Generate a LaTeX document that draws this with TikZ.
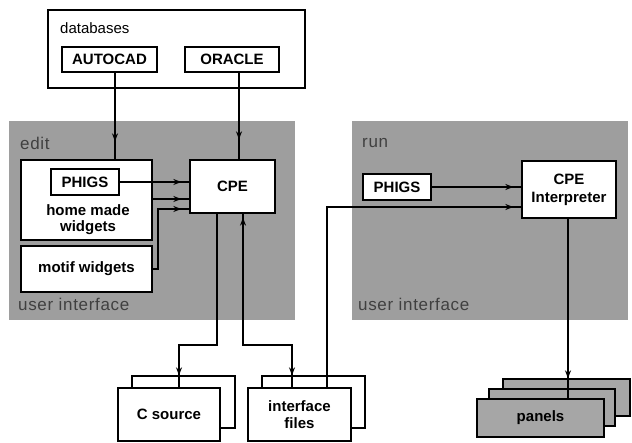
\documentclass[tikz,border=0pt]{standalone}
\usepackage{fontspec}
\setmainfont{Liberation Sans}
\newfontfamily\lblfont[LetterSpace=4]{Liberation Sans}
\usetikzlibrary{arrows.meta,decorations.markings,calc}
\begin{document}
\begin{tikzpicture}[x=1pt,y=-1pt,
  region/.style={fill=black!38, draw=none, inner sep=0pt},
  box/.style={draw=black, line width=1.3pt, fill=white, inner sep=0pt, align=center,
              font=\fontsize{15}{17}\selectfont\bfseries},
  greybox/.style={box, fill=black!35},
  plain/.style={inner sep=0pt, align=center, font=\fontsize{15}{17}\selectfont\bfseries},
  conn/.style={draw=black, line width=1.3pt},
  tipat/.style={postaction={decorate, decoration={markings,
      mark=at position #1 with {\arrow{Stealth[length=8pt,width=6pt,fill=black!45]}}}}},
  tipback/.style={postaction={decorate, decoration={markings,
      mark=at position #1 with {\arrow{Stealth[length=8pt,width=6pt,fill=black!45,reversed]}}}}},
  rlabel/.style={anchor=west, inner sep=0pt, text=black!75, font=\lblfont\fontsize{17}{19}\selectfont},
]
\useasboundingbox (0,0) rectangle (632,443);

% grey regions
\node[region, minimum width=286, minimum height=199] (editr) at (152,220.5) {};
\node[region, minimum width=276, minimum height=199] (runr) at (490,220.5) {};
\node[rlabel] (editl) at (20,143) {edit};
\node[rlabel] (runl) at (362,143) {run};
\node[rlabel] (ui1) at (18,304) {user interface};
\node[rlabel] (ui2) at (358,304) {user interface};

% databases
\node[box, minimum width=257, minimum height=78] (db) at (176.5,49) {};
\node[anchor=west, inner sep=0pt, font=\fontsize{15}{17}\selectfont] (dbl) at (60,28) {databases};
\node[box, minimum width=95, minimum height=25] (autocad) at (109.5,59.5) {AUTOCAD};
\node[box, minimum width=94, minimum height=25] (oracle) at (232,59.5) {ORACLE};

% edit side
\node[box, minimum width=131, minimum height=80] (hmw) at (86.5,200) {};
\node[box, minimum width=68, minimum height=26] (phigsa) at (85,182) {PHIGS};
\node[plain, font=\fontsize{15}{16}\selectfont\bfseries] (hmwt) at (88,220) {home made\\widgets};
\node[box, minimum width=131, minimum height=46] (motif) at (86.5,269) {motif widgets};
\node[box, minimum width=85, minimum height=53] (cpe) at (232.5,186.5) {CPE};

% run side
\node[box, minimum width=68, minimum height=26] (phigsb) at (397,187) {PHIGS};
\node[box, minimum width=94, minimum height=57, font=\fontsize{15}{18}\selectfont\bfseries] (cpei) at (569,189.5) {CPE\\Interpreter};

% bottom files
\node[box, minimum width=103, minimum height=52] (csrcb) at (183.5,402) {};
\node[box, minimum width=102, minimum height=53] (csrc) at (169,414.5) {C source};
\node[box, minimum width=103, minimum height=52] (ifilesb) at (313.5,402) {};
\node[box, minimum width=103, minimum height=53, font=\fontsize{15}{17}\selectfont\bfseries] (ifiles) at (299.5,414.5) {interface\\files};
\node[greybox, minimum width=127, minimum height=37] (panelsc) at (566.5,397.5) {};
\node[greybox, minimum width=126, minimum height=37] (panelsb) at (552,407.5) {};
\node[greybox, minimum width=127, minimum height=38] (panels) at (540.5,418) {panels};

% helper coordinates
\coordinate (xA) at (115,0);
\coordinate (xO) at (239,0);
\coordinate (y2) at (0,199);
\coordinate (m1) at (158,209);
\coordinate (c1) at (217,345);
\coordinate (c2) at (179,345);
\coordinate (f1) at (243,345);
\coordinate (f2) at (292,345);
\coordinate (g1) at (327,207);
\coordinate (p1) at (568,0);

% connectors
\draw[conn, tipat=-18pt] (autocad.south -| xA) -- (hmw.north -| xA);
\draw[conn, tipat=-20pt] (oracle.south -| xO) -- (cpe.north -| xO);
\draw[conn, tipat=-8pt] (phigsa.east) -- (phigsa.east -| cpe.west);
\draw[conn, tipat=-8pt] (hmw.east |- y2) -- (cpe.west |- y2);
\draw[conn, tipat=-8pt] (motif.east) -| (m1) -- (m1 -| cpe.west);
\draw[conn, tipat=-12pt] (cpe.south -| c1) -- (c1) -- (c2) -- (csrc.north -| c2);
\draw[conn, tipat=-12pt, tipback=12pt] (cpe.south -| f1) -- (f1) -- (f2) -- (ifiles.north -| f2);
\draw[conn, tipat=-8pt] (ifiles.north -| g1) -- (g1) -- (g1 -| cpei.west);
\draw[conn, tipat=-8pt] (phigsb.east) -- (phigsb.east -| cpei.west);
\draw[conn, tipat=-20pt] (cpei.south -| p1) -- (panels.north -| p1);
\end{tikzpicture}
\end{document}
